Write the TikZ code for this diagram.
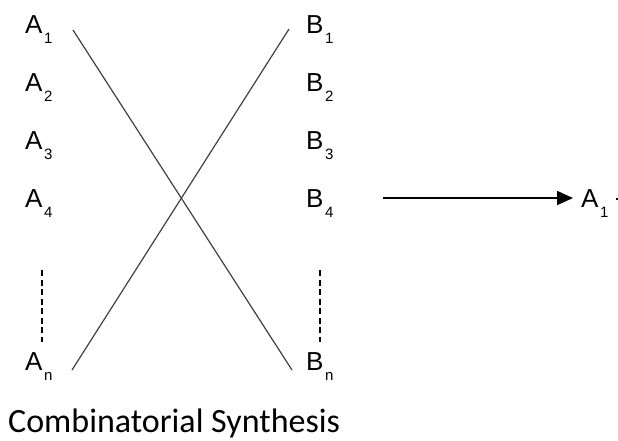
\documentclass[tikz,border=0pt]{standalone}
\usepackage{fontspec}
\setmainfont{Liberation Sans}
\newfontfamily\capfont{Carlito}
\usetikzlibrary{arrows.meta}
\begin{document}
\begin{tikzpicture}[x=1pt,y=-1pt,
  lab/.style={font=\fontsize{26}{30}\selectfont, inner sep=0pt, anchor=base west},
  ln/.style={line width=1.2pt, draw=black!75},
  dsh/.style={line width=1.6pt, dash pattern=on 6pt off 3.5pt},
  ]
\useasboundingbox (0,0) rectangle (618,440);
\newcommand{\sub}[1]{\hspace{1.5pt}\raisebox{-10pt}{\fontsize{15}{16}\selectfont #1}}
\node[lab] (a1) at (25,33) {A\sub{1}};
\node[lab] (a2) at (25,91) {A\sub{2}};
\node[lab] (a3) at (25,149) {A\sub{3}};
\node[lab] (a4) at (25,207) {A\sub{4}};
\node[lab] (an) at (25,370) {A\sub{n}};
\node[lab] (b1) at (306,33) {B\sub{1}};
\node[lab] (b2) at (306,91) {B\sub{2}};
\node[lab] (b3) at (306,149) {B\sub{3}};
\node[lab] (b4) at (306,207) {B\sub{4}};
\node[lab] (bn) at (306,370) {B\sub{n}};
\coordinate (ad1) at (42,270);
\coordinate (ad2) at (42,342);
\coordinate (bd1) at (320,270);
\coordinate (bd2) at (320,342);
\draw[dsh] (ad1) -- (ad2);
\draw[dsh] (bd1) -- (bd2);
\coordinate (x1) at (73,30);
\coordinate (x2) at (292,370);
\coordinate (y1) at (72,370);
\coordinate (y2) at (289,29);
\draw[ln] (x1) -- (x2);
\draw[ln] (y1) -- (y2);
\coordinate (s) at (383,198);
\node[lab] (r) at (581,207) {A\sub{1}};
\coordinate (t) at (573,198);
\draw[line width=1.8pt, -{Triangle[length=16pt,width=14pt]}] (s) -- (t);
\draw[line width=1.2pt] (615.5,199) -- (618,199);
\node[font=\capfont\fontsize{34}{38}\selectfont, inner sep=0pt, anchor=base west] (cap) at (8,432) {Combinatorial Synthesis};
\end{tikzpicture}
\end{document}
